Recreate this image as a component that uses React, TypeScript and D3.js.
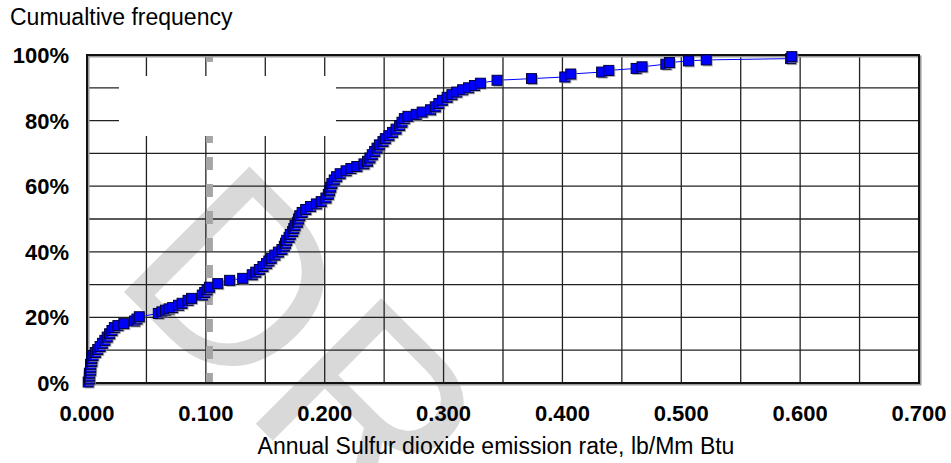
import * as d3 from 'd3'
import React from 'react'

// emission rate (lb/Mm Btu) and cumulative frequency (%)
const rates = [
  0.001, 0.002, 0.002, 0.002, 0.003, 0.003, 0.003, 0.004, 0.004, 0.005,
  0.007, 0.009, 0.011, 0.013, 0.015, 0.017, 0.019, 0.021, 0.023, 0.026,
  0.031, 0.040, 0.042, 0.044, 0.060, 0.063, 0.066, 0.069, 0.072, 0.077,
  0.080, 0.085, 0.088, 0.097, 0.099, 0.101, 0.103, 0.110, 0.120, 0.131,
  0.139, 0.142, 0.145, 0.148, 0.151, 0.153, 0.155, 0.158, 0.161, 0.164,
  0.166, 0.167, 0.168, 0.170, 0.171, 0.173, 0.174, 0.175, 0.177, 0.178,
  0.179, 0.181, 0.184, 0.188, 0.193, 0.197, 0.201, 0.203, 0.204, 0.205,
  0.206, 0.208, 0.210, 0.213, 0.218, 0.222, 0.227, 0.233, 0.236, 0.238,
  0.240, 0.242, 0.244, 0.246, 0.249, 0.251, 0.254, 0.257, 0.260, 0.263,
  0.265, 0.267, 0.270, 0.277, 0.282, 0.289, 0.293, 0.296, 0.299, 0.303,
  0.307, 0.311, 0.316, 0.321, 0.326, 0.331, 0.345, 0.374, 0.402, 0.407,
  0.433, 0.439, 0.462, 0.467, 0.487, 0.490, 0.506, 0.521, 0.592, 0.593
]
const cumFreq = [
  0.3, 1.2, 2.1, 3.0, 3.9, 4.8, 5.7, 6.6, 7.5, 8.4,
  9.3, 10.2, 11.1, 12.1, 13.0, 14.0, 15.0, 16.0, 16.9, 17.5,
  18.1, 18.9, 19.5, 20.2, 21.2, 21.7, 22.2, 22.6, 23.0, 23.7,
  24.3, 25.2, 25.8, 26.8, 27.6, 28.4, 29.2, 30.3, 31.3, 31.9,
  33.0, 33.8, 34.6, 35.5, 36.4, 37.2, 38.0, 39.0, 39.9, 40.7,
  41.7, 42.6, 43.5, 44.4, 45.3, 46.2, 47.1, 48.0, 49.0, 50.0,
  51.0, 52.0, 52.9, 53.8, 54.6, 55.3, 56.4, 57.5, 58.6, 59.7,
  60.8, 61.9, 62.9, 63.8, 64.7, 65.4, 66.0, 66.8, 67.6, 68.6,
  69.6, 70.6, 71.6, 72.6, 73.6, 74.5, 75.4, 76.4, 77.4, 78.5,
  79.5, 80.6, 81.3, 81.9, 82.6, 83.3, 84.2, 85.2, 86.2, 87.1,
  87.9, 88.7, 89.4, 90.0, 90.7, 91.4, 92.3, 92.8, 93.3, 94.2,
  94.8, 95.3, 95.9, 96.4, 97.2, 97.7, 98.2, 98.5, 98.9, 99.5
]

const xTicks = [0, 0.1, 0.2, 0.3, 0.4, 0.5, 0.6, 0.7]
const yTicks = [0, 20, 40, 60, 80, 100]
const threshold = 0.103

const W = 951
const H = 463
const margin = { top: 55, right: 32, bottom: 80, left: 87 }
const FONT = '"Liberation Sans", Arial, sans-serif'

export default function App() {
  const x = d3.scaleLinear().domain([0, 0.7]).range([margin.left, W - margin.right])
  const y = d3.scaleLinear().domain([0, 100]).range([H - margin.bottom, margin.top])

  const xGrid = d3.range(0, 0.7001, 0.05)
  const yGrid = d3.range(0, 100.1, 10)
  const points = rates.map((r, i) => ({ r, p: cumFreq[i] }))
  const line = d3
    .line<{ r: number; p: number }>()
    .x((d) => x(d.r))
    .y((d) => y(d.p))

  const [x0, x1] = x.range()
  const [y0, y1] = y.range()
  const ms = 10

  return (
    <div style={{ position: 'absolute', left: 0, top: 0 }}>
      <svg width={W} height={H} style={{ display: 'block', background: '#fff' }}>
        {/* watermark */}
        <text
          transform="translate(109,277) rotate(45)"
          fontFamily={FONT}
          fontSize={258}
          fill="#d9d9d9"
        >
          DRAFT
        </text>

        {/* grid */}
        <g stroke="#222" strokeWidth={1.3}>
          {xGrid.map((v) => (
            <line key={'gx' + v} x1={x(v)} x2={x(v)} y1={y1} y2={y0} />
          ))}
          {yGrid.map((v) => (
            <line key={'gy' + v} x1={x0} x2={x1} y1={y(v)} y2={y(v)} />
          ))}
        </g>

        {/* threshold line */}
        <line
          x1={x(threshold)}
          x2={x(threshold)}
          y1={y1}
          y2={y0}
          stroke="#a6a6a6"
          strokeWidth={7}
          strokeDasharray="13,14"
          strokeDashoffset={6}
        />

        {/* blank legend box */}
        <rect x={119} y={76} width={217} height={60} fill="#fff" />

        {/* frame */}
        <rect x={x0 + 1.5} y={y1 + 1.5} width={x1 - x0} height={y0 - y1} fill="none" stroke="#9a9a9a" strokeWidth={2} />
        <rect x={x0} y={y1} width={x1 - x0} height={y0 - y1} fill="none" stroke="#111" strokeWidth={2} />

        {/* series */}
        <path d={line(points) || ''} fill="none" stroke="#0000ff" strokeWidth={1} />
        {points.map((d, i) => (
          <g key={i}>
            <rect x={x(d.r) - ms / 2 + 1.5} y={y(d.p) - ms / 2 + 1.5} width={ms} height={ms} fill="#8a8a8a" opacity={0.7} />
            <rect x={x(d.r) - ms / 2} y={y(d.p) - ms / 2} width={ms} height={ms} fill="#0000ff" stroke="#00003a" strokeWidth={1} />
          </g>
        ))}

        {/* axis labels */}
        <g fontFamily={FONT} fontSize={22} fontWeight="bold" fill="#000">
          {xTicks.map((v) => (
            <text key={'xt' + v} x={x(v)} y={420.5} textAnchor="middle">
              {d3.format('.3f')(v)}
            </text>
          ))}
          {yTicks.map((v) => (
            <text key={'yt' + v} x={69} y={y(v) + 8} textAnchor="end">
              {v + '%'}
            </text>
          ))}
        </g>
        <text x={10} y={25} fontFamily={FONT} fontSize={23} fill="#000">
          Cumualtive frequency
        </text>
        <text x={(x0 + x1) / 2 - 7} y={454} fontFamily={FONT} fontSize={23} textAnchor="middle" fill="#000">
          Annual Sulfur dioxide emission rate, lb/Mm Btu
        </text>
      </svg>
    </div>
  )
}
